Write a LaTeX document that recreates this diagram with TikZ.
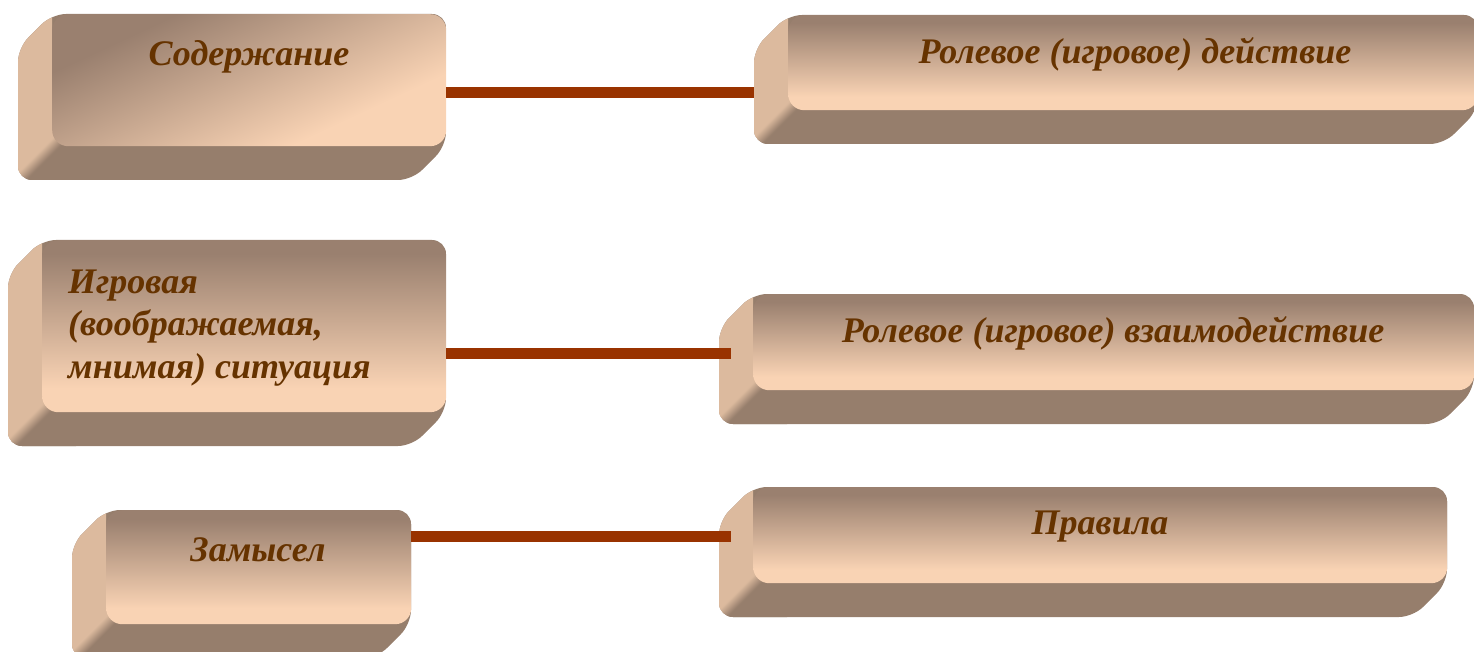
\documentclass[tikz,border=0pt]{standalone}
\usepackage{fontspec}
\setmainfont{Liberation Serif}
\usetikzlibrary{calc}
\definecolor{facetop}{RGB}{154,128,111}
\definecolor{facebot}{RGB}{249,211,180}
\definecolor{sidecol}{RGB}{220,186,158}
\definecolor{bottomcol}{RGB}{150,126,108}
\definecolor{linecol}{RGB}{153,51,0}
\definecolor{txtcol}{RGB}{102,51,0}
\pgfdeclareverticalshading{facesh}{100bp}{color(0bp)=(facebot); color(32bp)=(facebot); color(71bp)=(facetop); color(100bp)=(facetop)}
\pgfdeclarehorizontalshading{seamsh}{100bp}{color(0bp)=(sidecol); color(46bp)=(sidecol); color(54bp)=(bottomcol); color(100bp)=(bottomcol)}
\tikzset{
  face/.style={shading=facesh, rounded corners=16pt, inner sep=0pt, anchor=north west, draw=none},
  sideface/.style={fill=sidecol},
  bottomface/.style={fill=bottomcol},
  seam/.style={shading=seamsh, shading angle=-45},
  conn/.style={draw=linecol, line width=11pt},
  lbl/.style={text=txtcol, font=\fontsize{36}{42.5}\selectfont\bfseries\itshape, inner sep=0pt},
}
% #1 name, #2 x1, #3 y1, #4 x2, #5 y2 (face, pixel coords), #6 face options
\newcommand\solidbox[6]{%
  \begin{scope}
    \clip[rounded corners=14pt] (#2,#3) -- (#2-34,#3+34) -- (#2-34,#5+34) -- (#4-34,#5+34) -- (#4,#5) -- (#4,#3) -- cycle;
    \fill[bottomface] (#2,#3) -- (#2-34,#3+34) -- (#2-34,#5+34) -- (#4-34,#5+34) -- (#4,#5) -- (#4,#3) -- cycle;
    \fill[sideface] (#2,#3) -- (#2-34,#3+34) -- (#2-34,#5+34) -- (#2,#5) -- cycle;
    \path[seam] (#2-34,#5-34) rectangle (#2+34,#5+34);
  \end{scope}
  \node[face, minimum width=#4-#2, minimum height=#5-#3, #6] (#1) at (#2,#3) {};
}
\begin{document}
\begin{tikzpicture}[x=1pt,y=-1pt]
\useasboundingbox (0,0) rectangle (1474,652);
\clip (0,0) rectangle (1474,652);

\solidbox{A}{52}{14}{446}{146}{shading angle=25}
\solidbox{B}{788}{15}{1478}{110}{}
\solidbox{C}{42}{240}{446}{412}{}
\solidbox{D}{753}{294}{1474}{390}{}
\solidbox{E}{106}{510}{411}{624}{}
\solidbox{F}{753}{487}{1447}{583}{}

\node[lbl] (tA) at (249,57) {Содержание};
\node[lbl] (tB) at (1135,54) {Ролевое (игровое) действие};
\node[lbl, anchor=west, align=left] (tC) at (68,328) {Игровая\\(воображаемая,\\мнимая) ситуация};
\node[lbl] (tD) at (1113,333) {Ролевое (игровое) взаимодействие};
\node[lbl] (tE) at (258,550) {Замысел};
\node[lbl] (tF) at (1100,527) {Правила};

\coordinate (ab) at (0,93);
\coordinate (cd) at (0,353);
\coordinate (ef) at (0,536);
\draw[conn] (A.east |- ab) -- ($(B.west |- ab)+(-34,0)$);
\draw[conn] (C.east |- cd) -- ($(D.west |- cd)+(-22,0)$);
\draw[conn] (E.east |- ef) -- ($(F.west |- ef)+(-22,0)$);
\end{tikzpicture}
\end{document}
